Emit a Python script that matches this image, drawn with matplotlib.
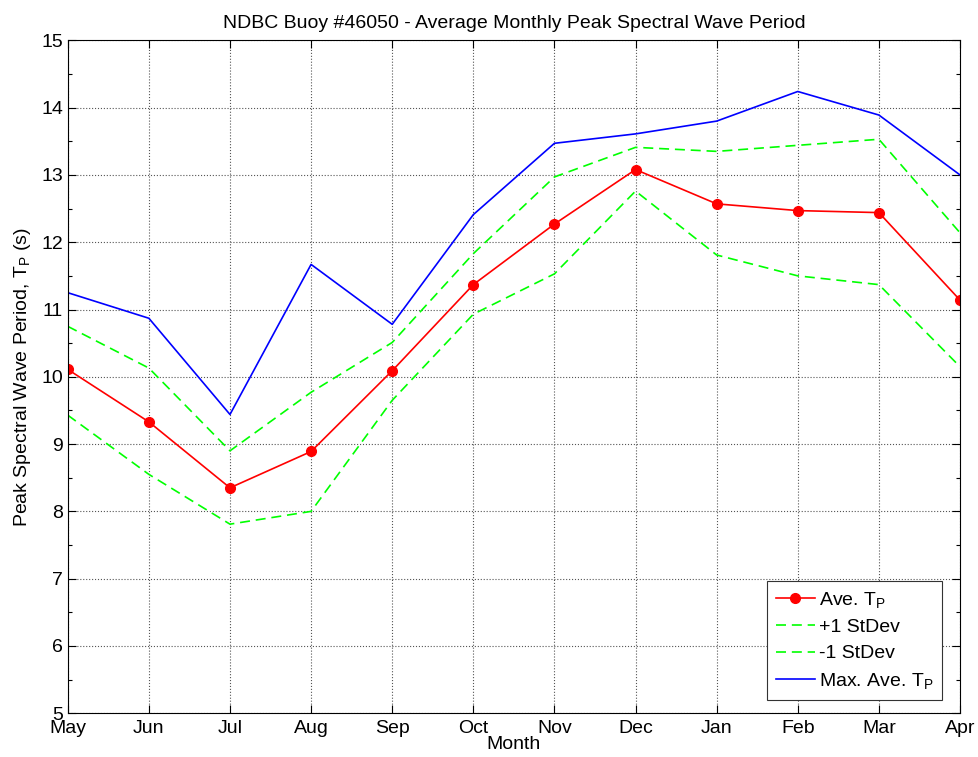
import numpy as np
import matplotlib.pyplot as plt
from matplotlib.ticker import MultipleLocator

plt.rcParams['font.family'] = ['Liberation Sans', 'DejaVu Sans']
plt.rcParams['mathtext.fontset'] = 'custom'
plt.rcParams['mathtext.rm'] = 'Liberation Sans'
plt.rcParams['mathtext.it'] = 'Liberation Sans'

# monthly peak spectral wave period at buoy 46050 (seconds)
months = ['May', 'Jun', 'Jul', 'Aug', 'Sep', 'Oct',
          'Nov', 'Dec', 'Jan', 'Feb', 'Mar', 'Apr']
ave_tp = [10.11, 9.33, 8.35, 8.89, 10.09, 11.37,
          12.27, 13.08, 12.57, 12.47, 12.44, 11.14]
plus_sd = [10.75, 10.13, 8.90, 9.77, 10.51, 11.83,
           12.97, 13.41, 13.35, 13.44, 13.53, 12.14]
minus_sd = [9.43, 8.55, 7.81, 8.00, 9.65, 10.93,
            11.53, 12.76, 11.81, 11.50, 11.37, 10.15]
max_tp = [11.25, 10.87, 9.44, 11.67, 10.78, 12.41,
          13.47, 13.61, 13.80, 14.24, 13.89, 13.00]

x = np.arange(len(months))

fig = plt.figure(figsize=(9.79, 7.57), dpi=100)
ax = fig.add_axes([0.0692, 0.0578, 0.9114, 0.8889])

dash = (6, 3.5)
ax.plot(x, ave_tp, color='red', lw=1.2, marker='o', markersize=7,
        label=r'Ave. T$_\mathrm{P}$')
ax.plot(x, plus_sd, color='#00ff00', lw=1.2, linestyle='--', dashes=dash,
        label='+1 StDev')
ax.plot(x, minus_sd, color='#00ff00', lw=1.2, linestyle='--', dashes=dash,
        label='-1 StDev')
ax.plot(x, max_tp, color='blue', lw=1.2, label=r'Max. Ave. T$_\mathrm{P}$')

ax.set_xlim(0, 11)
ax.set_ylim(5, 15)
ax.set_xticks(x)
ax.set_xticklabels(months)
ax.yaxis.set_major_locator(MultipleLocator(1))
ax.yaxis.set_minor_locator(MultipleLocator(0.5))
ax.tick_params(which='both', direction='in', top=True, right=True,
               labelsize=14, width=0.8)
ax.tick_params(which='major', length=6)
ax.tick_params(which='minor', length=3)
ax.tick_params(axis='x', pad=5)
ax.grid(True, which='major', linestyle=':', color='#555555', linewidth=0.8)
for s in ax.spines.values():
    s.set_linewidth(0.8)

ax.set_title('NDBC Buoy #46050 - Average Monthly Peak Spectral Wave Period',
             fontsize=14, pad=9)
ax.set_xlabel('Month', fontsize=14, labelpad=-1)
ax.set_ylabel(r'Peak Spectral Wave Period, T$_\mathrm{P}$ (s)', fontsize=14,
              labelpad=6)

leg = ax.legend(loc='lower right', bbox_to_anchor=(942 / 979, 57 / 757),
                bbox_transform=fig.transFigure, borderaxespad=0,
                fancybox=False, framealpha=1, edgecolor='#333333',
                fontsize=14, handlelength=2.0, labelspacing=0.45,
                handletextpad=0.2, borderpad=0.45)
leg.get_frame().set_linewidth(0.8)

fig.savefig('out.png', dpi=100)
